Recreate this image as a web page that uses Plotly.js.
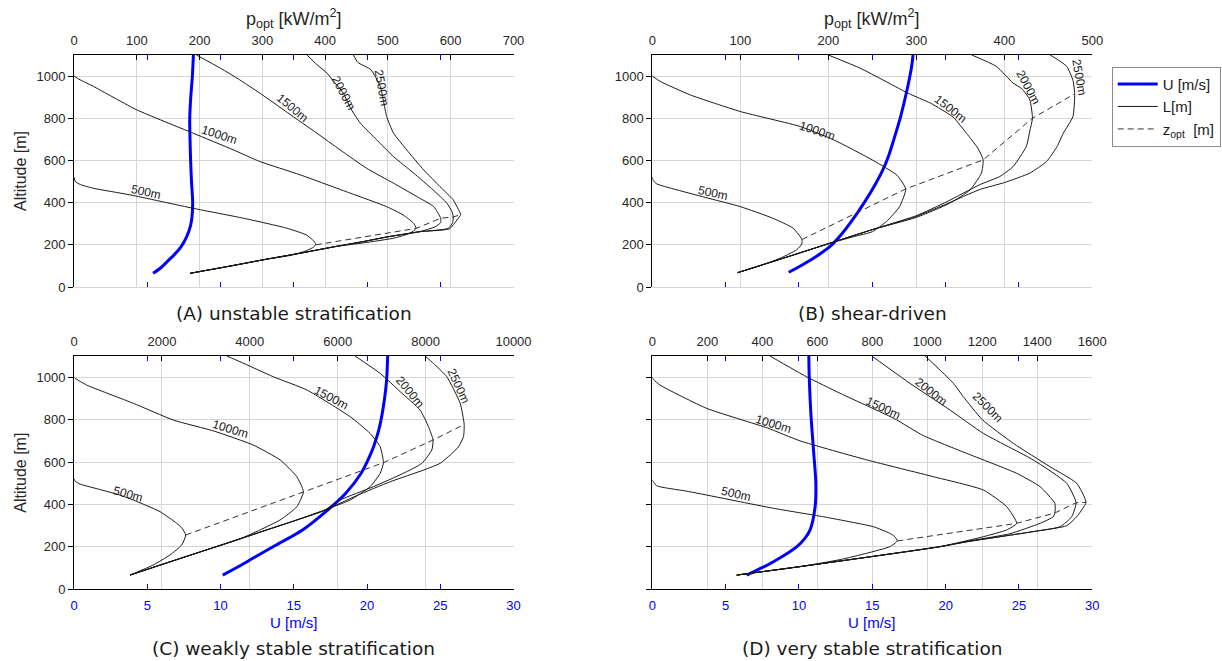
<!DOCTYPE html>
<html><head><meta charset="utf-8">
<script src="https://cdn.plot.ly/plotly-3.0.1.min.js"></script>
<style>body{margin:0;background:#fff;} #chart{width:1222px;height:661px;}</style>
</head><body><div id="chart"></div>
<script>
// ---------- Panel A: unstable stratification ----------
const A_Uz = [65, 90, 130, 150, 190, 240, 290, 330, 400, 500, 600, 700, 800, 900, 1000, 1100];
const A_Uv = [5.4, 5.9, 6.5, 6.8, 7.3, 7.7, 7.95, 8.05, 8.1, 8.02, 7.96, 7.92, 7.9, 7.97, 8.08, 8.15];
const A_p500 = [185, 250, 307, 345, 370, 382, 385, 382, 370, 339, 270, 190, 89, 31, 10, 2, 0];
const A_z500 = [65, 100, 132, 150, 172, 190, 203, 218, 247, 279, 326, 373, 437, 468, 486, 500, 520];
const A_p1000 = [185, 250, 307, 360, 413, 470, 510, 535, 545, 540, 524, 498, 440, 360, 296, 254, 190, 100, 31, 8, 0];
const A_z1000 = [65, 100, 132, 160, 190, 213, 232, 255, 278, 305, 342, 381, 445, 532, 595, 650, 729, 840, 951, 985, 1000];
const A_p1500 = [185, 250, 307, 360, 413, 460, 500, 550, 575, 584, 584, 573, 546, 509, 466, 424, 387, 340, 296, 264, 233, 195];
const A_z1500 = [65, 100, 132, 160, 190, 215, 238, 262, 285, 305, 326, 381, 429, 492, 563, 650, 729, 827, 919, 982, 1038, 1100];
const A_p2000 = [185, 250, 307, 360, 413, 460, 500, 550, 596, 603, 604, 602, 594, 572, 541, 509, 482, 456, 440, 429, 415, 403, 387, 371];
const A_z2000 = [65, 100, 132, 160, 190, 215, 238, 262, 278, 305, 332, 357, 397, 460, 540, 618, 698, 777, 850, 919, 970, 1014, 1054, 1100];
const A_p2500 = [185, 250, 307, 360, 413, 460, 500, 550, 598, 610, 616, 614, 604, 583, 557, 530, 509, 498, 493, 488, 473, 452, 445];
const A_z2500 = [65, 100, 132, 160, 190, 215, 238, 262, 276, 318, 343, 357, 413, 476, 555, 650, 729, 808, 880, 950, 1030, 1065, 1100];
const A_optP = [385, 545, 584, 604, 616];
const A_optZ = [200, 278, 326, 332, 343];

// ---------- Panel B: shear-driven ----------
const B_Uz = [70, 96, 130, 191, 250, 318, 400, 480, 555, 630, 700, 808, 935, 1046, 1100];
const B_Uv = [9.3, 10.0, 10.85, 12.1, 12.9, 13.65, 14.45, 15.15, 15.72, 16.15, 16.47, 16.93, 17.37, 17.68, 17.78];
const B_p500 = [97, 119, 145, 164, 170, 170, 168, 160, 137, 100, 60, 24, 5, 1, 0];
const B_z500 = [68, 96, 136, 176, 205, 225, 239, 279, 326, 381, 425, 465, 489, 505, 520];
const B_p1000 = [97, 150, 200, 230, 250, 266, 281, 288, 278, 251, 206, 168, 100, 43, 9, 0];
const B_z1000 = [68, 138, 205, 240, 262, 310, 381, 465, 530, 600, 698, 761, 832, 911, 975, 1000];
const B_p1500 = [97, 150, 200, 250, 300, 338, 361, 374, 376, 370, 357, 342, 316, 291, 262, 236, 200];
const B_z1500 = [68, 138, 205, 272, 330, 397, 460, 540, 603, 658, 729, 805, 872, 918, 982, 1038, 1100];
const B_p2000 = [97, 150, 200, 250, 300, 335, 372, 395, 410, 425, 429, 432, 429, 420, 410, 391, 363];
const B_z2000 = [68, 138, 205, 272, 338, 405, 485, 524, 571, 666, 740, 800, 887, 940, 967, 1046, 1100];
const B_p2500 = [97, 150, 200, 250, 300, 335, 372, 400, 429, 448, 460, 467, 478, 480, 478, 471, 460, 452];
const B_z2500 = [68, 138, 205, 272, 335, 395, 462, 495, 540, 595, 666, 729, 808, 916, 980, 1046, 1080, 1100];
const B_optP = [170, 288, 376, 432, 480];
const B_optZ = [225, 465, 603, 800, 916];

// ---------- Panel C: weakly stable stratification ----------
const C_Uz = [67, 110, 150, 209, 280, 370, 453, 547, 600, 672, 750, 814, 900, 987, 1100];
const C_Uv = [10.15, 11.3, 12.3, 13.8, 15.6, 17.25, 18.55, 19.6, 20.0, 20.45, 20.8, 21.0, 21.2, 21.34, 21.41];
const C_p500 = [1275, 1806, 2185, 2451, 2543, 2450, 2337, 1958, 1350, 1000, 600, 137, 23, 0];
const C_z500 = [67, 115, 162, 209, 256, 290, 311, 366, 421, 447, 470, 496, 510, 520];
const C_p1000 = [1275, 2000, 2868, 3779, 4234, 4689, 5069, 5220, 5069, 4689, 4081, 3200, 2260, 1350, 289, 23, 0];
const C_z1000 = [67, 117, 176, 238, 280, 327, 389, 460, 531, 610, 680, 745, 798, 877, 963, 995, 1000];
const C_p1500 = [1275, 2000, 2868, 3779, 4386, 5000, 5675, 6283, 6738, 6966, 7041, 6966, 6738, 6283, 5296, 4537, 3779, 3476];
const C_z1500 = [67, 117, 176, 238, 280, 322, 372, 421, 484, 547, 597, 672, 735, 814, 940, 1002, 1073, 1100];
const C_p2000 = [1275, 2000, 2868, 3779, 4386, 5000, 5675, 6055, 6814, 7496, 7915, 8142, 8170, 8065, 7876, 7421, 6966, 6396];
const C_z2000 = [67, 117, 176, 238, 280, 322, 370, 421, 484, 547, 594, 657, 704, 767, 845, 932, 1018, 1100];
const C_p2500 = [1275, 2000, 2868, 3779, 4386, 5000, 5675, 6435, 7193, 7952, 8331, 8559, 8749, 8862, 8878, 8787, 8483, 8179, 7990];
const C_z2500 = [67, 117, 176, 238, 280, 322, 370, 442, 507, 562, 594, 633, 672, 720, 777, 877, 1002, 1065, 1100];
const C_optP = [2543, 5220, 7041, 8170, 8878];
const C_optZ = [256, 460, 597, 704, 777];

// ---------- Panel D: very stable stratification ----------
const D_Uz = [67, 130, 201, 240, 280, 389, 500, 657, 830, 1002, 1100];
const D_Uv = [6.44, 8.26, 9.86, 10.4, 10.76, 11.1, 11.15, 10.99, 10.81, 10.7, 10.67];
const D_p500 = [307, 537, 683, 780, 864, 891, 880, 864, 804, 622, 440, 137, 16, 4, 0];
const D_z500 = [67, 107, 140, 170, 201, 228, 250, 264, 295, 342, 382, 460, 488, 507, 515];
const D_p1000 = [307, 537, 780, 1046, 1204, 1289, 1325, 1289, 1204, 1022, 780, 537, 420, 198, 28, 4, 0];
const D_z1000 = [67, 107, 151, 201, 248, 280, 311, 389, 468, 531, 610, 700, 760, 853, 963, 990, 1000];
const D_p1500 = [307, 537, 780, 1046, 1143, 1300, 1410, 1458, 1464, 1464, 1410, 1325, 1143, 985, 880, 773, 683, 561, 428];
const D_z1500 = [67, 107, 151, 201, 226, 262, 311, 342, 360, 405, 484, 547, 641, 725, 805, 870, 924, 1002, 1100];
const D_p2000 = [307, 537, 780, 1046, 1143, 1385, 1483, 1525, 1541, 1507, 1385, 1204, 1083, 937, 798];
const D_z2000 = [67, 107, 151, 201, 224, 272, 295, 342, 408, 500, 610, 735, 845, 971, 1100];
const D_p2500 = [307, 537, 780, 1046, 1143, 1385, 1507, 1543, 1577, 1543, 1446, 1313, 1200, 1131, 1095, 1046, 992];
const D_z2500 = [67, 107, 151, 201, 224, 272, 300, 342, 410, 500, 578, 688, 800, 908, 971, 1034, 1100];
const D_optP = [891, 1325, 1464, 1541, 1577];
const D_optZ = [228, 311, 360, 408, 410];

// ---------- Labels, ranges, texts ----------
const L_names = ['500m', '1000m', '1500m', '2000m', '2500m'];
const A_labP = [115, 232, 348, 429, 490], A_labZ = [452, 720, 848, 919, 943], A_labAng = [12, 18, 40, 62, 80];
const B_labP = [69, 188, 339, 427, 485], B_labZ = [448, 742, 843, 948, 995], B_labAng = [12, 18, 38, 62, 80];
const C_labP = [1222, 3551, 5866, 7650, 8748], C_labZ = [449, 754, 903, 932, 958], C_labAng = [15, 17, 28, 50, 65];
const D_labP = [303, 440, 840, 1016, 1218], D_labZ = [448, 779, 856, 932, 858], D_labAng = [13, 17, 25, 38, 45];
const pMax = [700, 500, 10000, 1600];
const pStep = [100, 100, 2000, 200];
const panelTitles = ['(A) unstable stratification', '(B) shear-driven', '(C) weakly stable stratification', '(D) very stable stratification'];
const altTicks = [0, 200, 400, 600, 800, 1000];
const uTicks = [0, 5, 10, 15, 20, 25, 30];
const uInnerTicks = [5, 10, 15, 20, 25];

const panels = [
  {Uz: A_Uz, Uv: A_Uv, P: [A_p500, A_p1000, A_p1500, A_p2000, A_p2500], Z: [A_z500, A_z1000, A_z1500, A_z2000, A_z2500], oP: A_optP, oZ: A_optZ, lP: A_labP, lZ: A_labZ, lA: A_labAng},
  {Uz: B_Uz, Uv: B_Uv, P: [B_p500, B_p1000, B_p1500, B_p2000, B_p2500], Z: [B_z500, B_z1000, B_z1500, B_z2000, B_z2500], oP: B_optP, oZ: B_optZ, lP: B_labP, lZ: B_labZ, lA: B_labAng},
  {Uz: C_Uz, Uv: C_Uv, P: [C_p500, C_p1000, C_p1500, C_p2000, C_p2500], Z: [C_z500, C_z1000, C_z1500, C_z2000, C_z2500], oP: C_optP, oZ: C_optZ, lP: C_labP, lZ: C_labZ, lA: C_labAng},
  {Uz: D_Uz, Uv: D_Uv, P: [D_p500, D_p1000, D_p1500, D_p2000, D_p2500], Z: [D_z500, D_z1000, D_z1500, D_z2000, D_z2500], oP: D_optP, oZ: D_optZ, lP: D_labP, lZ: D_labZ, lA: D_labAng}
];

// ---------- geometry (pixels) ----------
const W = 1222, H = 661;
const colX = [[74, 513.5], [652.3, 1092.3]];
const rowY = [[55, 287], [356, 589.3]];
const FONT = 'Liberation Sans, Arial, Helvetica, sans-serif';
const TICKC = '#262626';
const GRID = '#d6d6d6';
const BLUE = '#0000ff';

const traces = [];
const layout = {
  width: W, height: H,
  margin: {l: 0, r: 0, t: 0, b: 0},
  paper_bgcolor: '#fff', plot_bgcolor: '#fff',
  font: {family: FONT, size: 13, color: TICKC},
  showlegend: true,
  legend: {x: 1111.7 / W, y: 1 - 66.7 / H, xanchor: 'left', yanchor: 'top',
           bordercolor: '#8c8c8c', borderwidth: 1, bgcolor: '#fff',
           font: {family: FONT, size: 15, color: '#1a1a1a'}, tracegroupgap: 0,
           itemwidth: 40},
  annotations: []
};

function axId(n) { return n === 1 ? '' : String(n); }

panels.forEach((pn, i) => {
  const col = i % 2, row = Math.floor(i / 2);
  const xd = [colX[col][0] / W, colX[col][1] / W];
  const yd = [1 - rowY[row][1] / H, 1 - rowY[row][0] / H];
  const nU = 3 * i + 1, nP = 3 * i + 2, nT = 3 * i + 3, nY = i + 1;
  const xU = 'x' + axId(nU), xP = 'x' + axId(nP), xT = 'x' + axId(nT), yy = 'y' + axId(nY);
  const showBottomLabels = row === 1;

  layout['xaxis' + axId(nU)] = {
    domain: xd, anchor: yy, range: [0, 30], tickvals: showBottomLabels ? uTicks : uInnerTicks,
    ticks: 'inside', ticklen: 5,
    tickcolor: BLUE, tickwidth: 1, showticklabels: showBottomLabels, ticklabelstandoff: 4,
    tickfont: {family: FONT, size: 13, color: BLUE}, showgrid: false, zeroline: false,
    showline: showBottomLabels, linecolor: '#000', linewidth: 1, fixedrange: true
  };
  layout['xaxis' + axId(nP)] = {
    overlaying: xU, anchor: yy, side: 'top', range: [0, pMax[i]], dtick: pStep[i], tick0: 0,
    tickformat: 'd',
    ticks: 'inside', ticklen: 5, tickcolor: '#000', tickwidth: 1, ticklabelstandoff: 4,
    tickfont: {family: FONT, size: 13, color: TICKC}, showgrid: true, gridcolor: GRID, gridwidth: 1,
    zeroline: false, showline: true, linecolor: '#000', linewidth: 1, fixedrange: true
  };
  layout['xaxis' + axId(nT)] = {
    overlaying: xU, anchor: yy, side: 'top', range: [0, 30], tickvals: uInnerTicks,
    ticks: 'inside', ticklen: 5, tickcolor: BLUE, tickwidth: 1, showticklabels: false,
    showgrid: false, zeroline: false, showline: false, fixedrange: true
  };
  layout['yaxis' + axId(nY)] = {
    domain: yd, anchor: xU, range: [0, 1100], tickvals: altTicks, ticks: 'outside', ticklen: 5,
    tickcolor: '#000', showticklabels: i !== 3, tickfont: {family: FONT, size: 13, color: TICKC},
    showgrid: true, gridcolor: GRID, gridwidth: 1, zeroline: true, zerolinecolor: GRID, zerolinewidth: 1,
    showline: true, linecolor: '#000', linewidth: 1, fixedrange: true
  };

  // L curves
  pn.P.forEach((pArr, k) => {
    traces.push({type: 'scatter', mode: 'lines', x: pArr, y: pn.Z[k], xaxis: xP, yaxis: yy,
      line: {color: '#1a1a1a', width: 1, shape: 'spline', smoothing: 0.5},
      name: 'L[m]', legendrank: 2, showlegend: i === 0 && k === 0, hoverinfo: 'skip'});
  });
  // z_opt
  traces.push({type: 'scatter', mode: 'lines', x: pn.oP, y: pn.oZ, xaxis: xP, yaxis: yy,
    line: {color: '#333', width: 1, dash: '6px,4px'},
    name: 'z<sub>opt</sub>  [m]', legendrank: 3, showlegend: i === 0, hoverinfo: 'skip'});
  // U
  traces.push({type: 'scatter', mode: 'lines', x: pn.Uv, y: pn.Uz, xaxis: xU, yaxis: yy,
    line: {color: BLUE, width: 3, shape: 'spline', smoothing: 0.8},
    name: 'U [m/s]', legendrank: 1, showlegend: i === 0, hoverinfo: 'skip'});
  // Utop axis carrier: same U curve, invisible
  traces.push({type: 'scatter', mode: 'lines', x: pn.Uv, y: pn.Uz, xaxis: xT, yaxis: yy,
    line: {color: 'rgba(0,0,0,0)', width: 0}, showlegend: false, hoverinfo: 'skip'});

  // contour labels
  L_names.forEach((nm, k) => {
    layout.annotations.push({xref: xP, yref: yy, x: pn.lP[k], y: pn.lZ[k], text: nm,
      showarrow: false, textangle: pn.lA[k], font: {family: FONT, size: 12, color: '#1a1a1a'}});
  });

  const cx = (colX[col][0] + colX[col][1]) / 2 / W;
  // panel title
  layout.annotations.push({xref: 'paper', yref: 'paper', x: cx, y: 1 - (row === 0 ? 313 : 648) / H,
    text: panelTitles[i], showarrow: false, xanchor: 'center', yanchor: 'middle',
    font: {family: 'DejaVu Sans, sans-serif', size: 18.5, color: '#1a1a1a'}});
  if (row === 0) {
    layout.annotations.push({xref: 'paper', yref: 'paper', x: cx, y: 1 - 19 / H,
      text: 'p<sub>opt</sub> [kW/m<sup>2</sup>]', showarrow: false, xanchor: 'center', yanchor: 'middle',
      font: {family: FONT, size: 18, color: TICKC}});
  } else {
    layout.annotations.push({xref: 'paper', yref: 'paper', x: cx, y: 1 - 622 / H,
      text: 'U [m/s]', showarrow: false, xanchor: 'center', yanchor: 'middle',
      font: {family: FONT, size: 15, color: BLUE}});
  }
  if (col === 0) {
    layout.annotations.push({xref: 'paper', yref: 'paper', x: 21 / W,
      y: 1 - (rowY[row][0] + rowY[row][1]) / 2 / H, text: 'Altitude [m]', showarrow: false,
      textangle: -90, xanchor: 'center', yanchor: 'middle', font: {family: FONT, size: 16, color: TICKC}});
  }
});

Plotly.newPlot('chart', traces, layout, {staticPlot: true, displayModeBar: false});
</script></body></html>
